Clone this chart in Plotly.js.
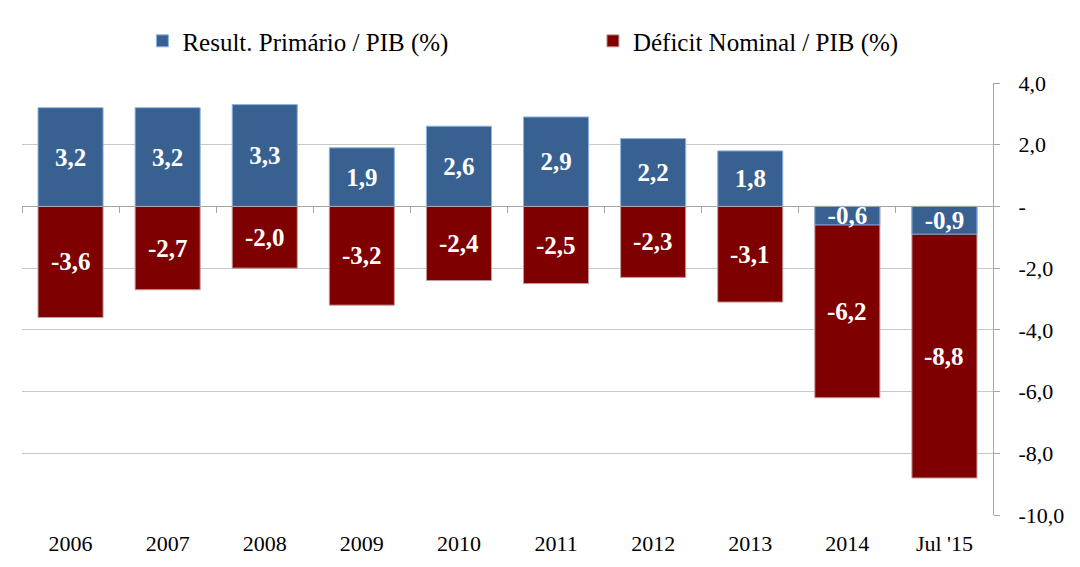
<!DOCTYPE html>
<html>
<head>
<meta charset="utf-8">
<script src="https://cdn.plot.ly/plotly-3.0.1.min.js"></script>
<style>
  html, body { margin: 0; padding: 0; background: #fff; }
  #chart { width: 1080px; height: 567px; }
</style>
</head>
<body>
<div id="chart"></div>
<script>
var categories = ['2006', '2007', '2008', '2009', '2010', '2011', '2012', '2013', '2014', "Jul '15"];
var primario = [3.2, 3.2, 3.3, 1.9, 2.6, 2.9, 2.2, 1.8, -0.6, -0.9];
var nominal = [-3.6, -2.7, -2.0, -3.2, -2.4, -2.5, -2.3, -3.1, -6.2, -8.8];
var yTickVals = [4, 2, 0, -2, -4, -6, -8, -10];
var yTickText = ['4,0', '2,0', '-', '-2,0', '-4,0', '-6,0', '-8,0', '-10,0'];
var yMin = -10, yMax = 4;

function fmt(v) { return v.toFixed(1).replace('.', ','); }

var serif = '"Times New Roman", "Liberation Serif", "DejaVu Serif", serif';
var labelFont = {family: serif, size: 25, color: '#ffffff', weight: 'bold'};
var xRange = [-0.5, categories.length - 0.5];

// red bars drawn first, blue ones on an overlaying axis so they sit on top
var traceNominal = {
  x: categories,
  y: nominal,
  type: 'bar',
  name: 'Déficit Nominal / PIB (%)',
  legend: 'legend2',
  hoverinfo: 'x+y',
  marker: {color: '#7f0000', line: {color: '#c49a9a', width: 1}}
};

var tracePrimario = {
  x: categories,
  y: primario,
  xaxis: 'x2',
  type: 'bar',
  name: 'Result. Primário / PIB (%)',
  legend: 'legend',
  text: primario.map(fmt),
  textposition: 'inside',
  insidetextanchor: 'middle',
  constraintext: 'none',
  textangle: 0,
  textfont: labelFont,
  hoverinfo: 'x+y',
  marker: {color: '#386192', line: {color: '#8db3e2', width: 1}}
};

// labels for the red bars, centred on the part not covered by blue
var annotations = categories.map(function (c, i) {
  var top = primario[i] < 0 ? primario[i] : 0;
  return {
    x: i, y: (top + nominal[i]) / 2, xref: 'x', yref: 'y',
    text: fmt(nominal[i]), showarrow: false, font: labelFont
  };
});

var legendFont = {family: serif, size: 25, color: '#000000'};
var axisFont = {family: serif, size: 22, color: '#000000'};

var layout = {
  width: 1080,
  height: 567,
  margin: {l: 22, r: 87, t: 83, b: 52},
  paper_bgcolor: '#ffffff',
  plot_bgcolor: '#ffffff',
  barmode: 'overlay',
  bargap: 0.33,
  font: {family: serif, size: 22, color: '#000000'},
  showlegend: true,
  legend: {
    orientation: 'h',
    x: 0.124, xanchor: 'left',
    y: 1.097, yanchor: 'middle',
    font: legendFont,
    itemwidth: 30
  },
  legend2: {
    orientation: 'h',
    x: 0.588, xanchor: 'left',
    y: 1.097, yanchor: 'middle',
    font: legendFont,
    itemwidth: 30
  },
  xaxis: {
    type: 'category',
    categoryorder: 'array',
    categoryarray: categories,
    range: xRange,
    showgrid: false,
    showline: false,
    ticks: '',
    ticklabelstandoff: 13,
    tickfont: axisFont
  },
  xaxis2: {
    type: 'category',
    categoryorder: 'array',
    categoryarray: categories,
    range: xRange,
    overlaying: 'x',
    anchor: 'free',
    position: (0 - yMin) / (yMax - yMin),
    side: 'bottom',
    showgrid: false,
    showline: true,
    linecolor: '#a6a6a6',
    linewidth: 1,
    ticks: 'outside',
    tickson: 'boundaries',
    ticklen: 6,
    tickcolor: '#a6a6a6',
    showticklabels: false
  },
  yaxis: {
    side: 'right',
    range: [yMin, yMax],
    tickmode: 'array',
    tickvals: yTickVals,
    ticktext: yTickText,
    showgrid: true,
    gridcolor: '#c8c8c8',
    gridwidth: 1,
    zeroline: false,
    showline: true,
    linecolor: '#a6a6a6',
    linewidth: 1,
    ticks: 'outside',
    ticklen: 6,
    tickcolor: '#a6a6a6',
    ticklabelstandoff: 14,
    tickfont: axisFont
  },
  annotations: annotations
};

Plotly.newPlot('chart', [traceNominal, tracePrimario], layout, {displayModeBar: false, staticPlot: true});
</script>
</body>
</html>
